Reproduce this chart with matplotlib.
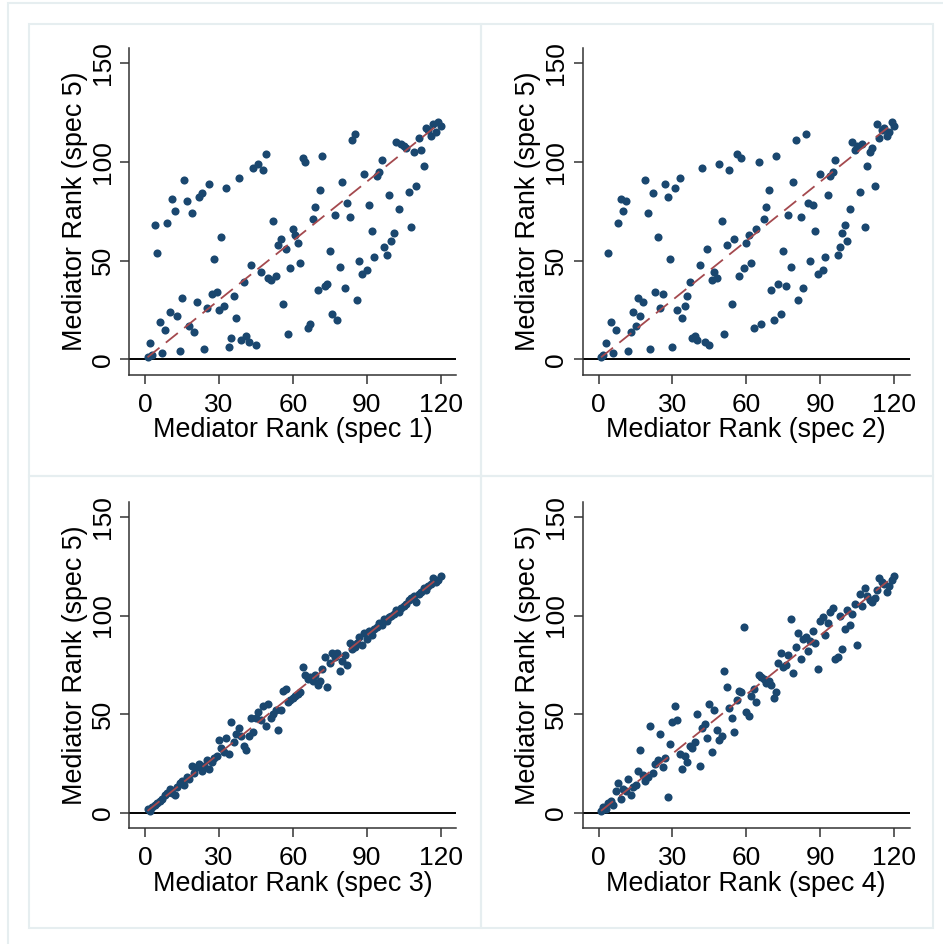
import matplotlib.pyplot as plt
from matplotlib.patches import Rectangle

plt.rcParams['font.family'] = ['Liberation Sans', 'DejaVu Sans']

# mediator ranks under specs 1-4 (x) against spec 5 (y)
rank = list(range(1, 121))

spec5_vs_1 = [1, 8, 2, 68, 54, 19, 3, 15, 69, 24, 81, 75, 22, 4, 31, 91, 80, 17, 74, 14,
              29, 82, 84, 5, 26, 89, 33, 51, 34, 25, 62, 27, 87, 6, 11, 32, 21, 92, 10, 39,
              12, 9, 48, 97, 7, 99, 44, 96, 104, 41, 40, 70, 42, 58, 61, 28, 56, 13, 46, 66,
              63, 59, 49, 102, 100, 16, 18, 71, 77, 35, 86, 103, 37, 38, 55, 23, 73, 20, 47, 90,
              36, 79, 72, 111, 114, 30, 50, 43, 94, 45, 78, 65, 52, 93, 95, 101, 57, 53, 83, 60,
              64, 110, 76, 109, 108, 107, 85, 67, 105, 88, 112, 106, 98, 117, 116, 113, 119, 115, 120, 118]

spec5_vs_2 = [1, 2, 8, 54, 19, 3, 15, 69, 81, 75, 80, 4, 14, 24, 17, 31, 22, 29, 91, 74,
              5, 84, 34, 62, 26, 33, 89, 82, 51, 6, 87, 25, 92, 21, 27, 32, 39, 11, 12, 10,
              48, 97, 9, 56, 7, 40, 44, 41, 99, 70, 13, 58, 96, 28, 61, 104, 42, 102, 46, 59,
              63, 49, 16, 66, 100, 18, 71, 77, 86, 35, 20, 103, 38, 23, 55, 37, 73, 47, 90, 111,
              30, 72, 36, 114, 79, 50, 78, 65, 43, 94, 45, 52, 83, 93, 95, 101, 53, 57, 64, 68,
              60, 76, 110, 106, 108, 85, 109, 67, 98, 105, 107, 88, 119, 112, 116, 117, 113, 115, 120, 118]

spec5_vs_3 = [2, 1, 3, 4, 5, 6, 7, 9, 10, 12, 10, 9, 13, 15, 16, 14, 18, 17, 24, 20,
              23, 25, 21, 24, 27, 22, 26, 28, 29, 37, 33, 31, 38, 30, 46, 36, 40, 43, 39, 34,
              32, 39, 48, 41, 48, 51, 47, 54, 44, 55, 48, 50, 52, 42, 52, 62, 63, 56, 57, 58,
              59, 60, 61, 74, 70, 68, 69, 67, 70, 65, 67, 73, 79, 64, 76, 81, 79, 81, 72, 77,
              80, 75, 86, 83, 84, 86, 89, 85, 91, 88, 92, 90, 93, 94, 96, 95, 98, 97, 99, 100,
              101, 103, 102, 104, 105, 106, 108, 109, 110, 107, 111, 112, 114, 113, 115, 116, 119, 117, 118, 120]

spec5_vs_4 = [1, 3, 2, 5, 6, 4, 11, 15, 7, 12, 11, 17, 9, 13, 14, 21, 32, 19, 16, 18,
              44, 20, 25, 27, 40, 23, 28, 8, 35, 46, 54, 47, 30, 22, 29, 26, 34, 33, 36, 50,
              24, 43, 45, 38, 55, 31, 52, 42, 37, 39, 72, 64, 53, 48, 41, 57, 62, 61, 94, 51,
              49, 59, 63, 56, 70, 69, 68, 66, 67, 65, 58, 61, 76, 81, 74, 75, 80, 98, 71, 84,
              91, 78, 88, 89, 82, 87, 92, 86, 73, 97, 99, 90, 96, 102, 104, 78, 79, 100, 83, 93,
              103, 95, 101, 106, 85, 111, 105, 114, 110, 108, 107, 109, 113, 119, 117, 116, 112, 115, 118, 120]

panels = [(spec5_vs_1, "Mediator Rank (spec 1)"),
          (spec5_vs_2, "Mediator Rank (spec 2)"),
          (spec5_vs_3, "Mediator Rank (spec 3)"),
          (spec5_vs_4, "Mediator Rank (spec 4)")]

navy = "#1a476f"
maroon = "#a4494e"
frame = "#e6eef0"

fig = plt.figure(figsize=(9.43, 9.44), dpi=100)

# light frames around the graph and each panel
fig.patches.append(Rectangle((8/943, -0.01), 1.0, 1 - 3/944 + 0.01, transform=fig.transFigure,
                             fill=False, edgecolor=frame, lw=1.5))
for (px, py) in [(29, 24), (481, 24), (29, 476), (481, 476)]:
    fig.patches.append(Rectangle((px/943, 1 - (py + 452)/944), 452/943, 452/944,
                                 transform=fig.transFigure, fill=False, edgecolor=frame, lw=1.5))

lefts = [0.1371, 0.618]
bottoms = [0.6031, 0.1226]

for i, (yvals, xlabel) in enumerate(panels):
    ax = fig.add_axes([lefts[i % 2], bottoms[i // 2], 0.3465, 0.3458])
    ax.scatter(rank, yvals, s=34, color=navy, linewidths=0, zorder=3)
    lo, hi = min(rank), max(rank)
    ax.plot([lo, hi], [lo, hi], color=maroon, lw=1.3, dashes=(8.5, 4.5), zorder=4)
    ax.axhline(0, color="black", lw=1.4, zorder=2)

    ax.set_xlim(-6.4, 126.2)
    ax.set_ylim(-7.8, 157.6)
    ax.set_xticks([0, 30, 60, 90, 120])
    ax.set_yticks([0, 50, 100, 150])
    for side in ["top", "right"]:
        ax.spines[side].set_visible(False)
    for side in ["left", "bottom"]:
        ax.spines[side].set_color("#333333")
        ax.spines[side].set_linewidth(1.1)
    ax.tick_params(axis="both", length=6.5, width=1.1, color="#333333", labelsize=19)
    ax.tick_params(axis="x", pad=6.5)
    ax.tick_params(axis="y", pad=4, labelrotation=90)
    for lab in ax.get_yticklabels():
        lab.set_va("center")

    ax.set_xlabel(xlabel, fontsize=19.4, labelpad=0.5)
    ax.set_ylabel("Mediator Rank (spec 5)", fontsize=19.4, labelpad=2)

plt.savefig("out.png", dpi=100)
